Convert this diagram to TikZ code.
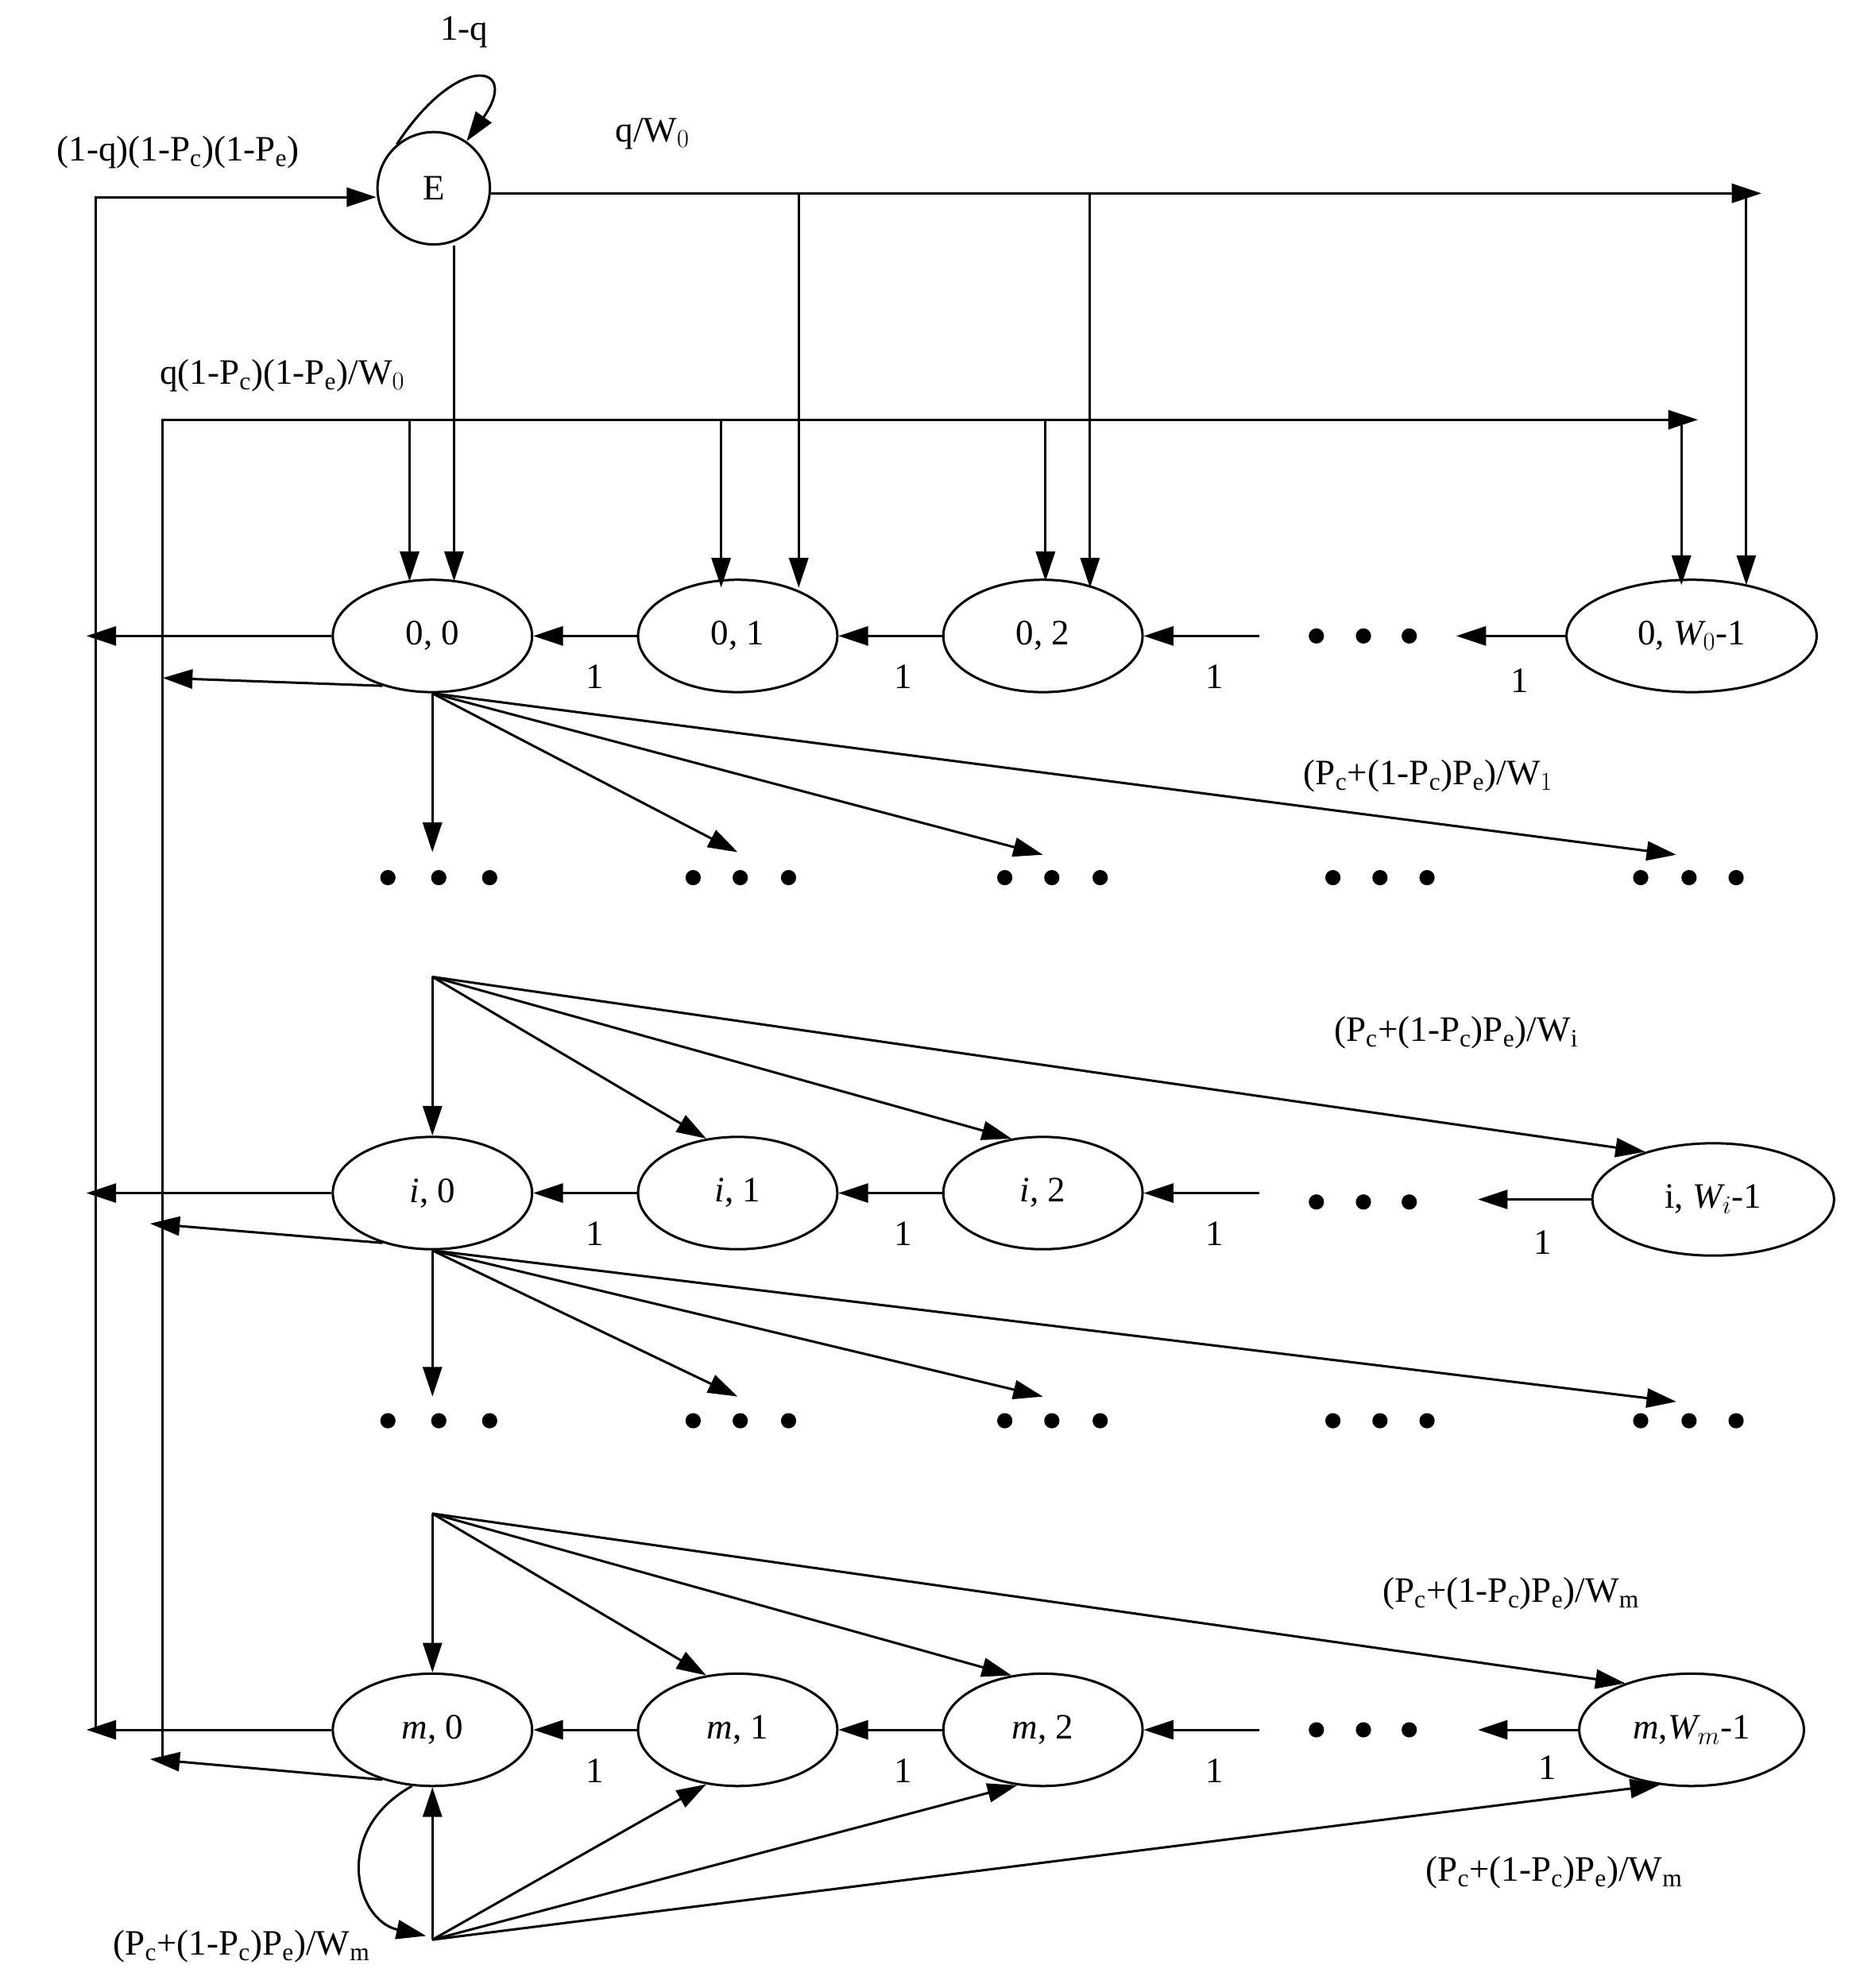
\documentclass[tikz,border=0pt]{standalone}
\usepackage{fontspec}
\setmainfont{Liberation Serif}
\usetikzlibrary{arrows.meta,shapes.geometric}
\begin{document}
\begin{tikzpicture}[x=0.03cm,y=-0.03cm,line width=1.6pt,
  every node/.style={font=\fontsize{24}{28}\selectfont},
  arr/.style={-{Triangle[length=0.7cm,width=0.45cm]}},
  st/.style={draw,ellipse,minimum width=4.7cm,minimum height=2.65cm,inner sep=0pt},
  dot/.style={fill,circle,inner sep=0pt,minimum size=0.36cm},
  lab/.style={inner sep=1pt}]
\useasboundingbox (0,0) rectangle (1462,1563);
% nodes
\node[draw,circle,minimum size=2.65cm,inner sep=0pt] (E) at (341,148) {E};
\foreach \r/\y/\a in {0/500/0, i/938/\textit{i}, m/1360/\textit{m}}{
  \node[st] (\r0) at (340,\y) {\a, 0};
  \node[st] (\r1) at (580,\y) {\a, 1};
  \node[st] (\r2) at (820,\y) {\a, 2};
}
\node[st,minimum width=5.9cm] (0W) at (1330,500) {0, \textit{W$_0$}-1};
\node[st,minimum width=5.7cm] (iW) at (1347,943) {i, \textit{W$_i$}-1};
\node[st,minimum width=5.3cm] (mW) at (1330,1360) {\textit{m},\textit{W$_m$}-1};
% dots in rows
\foreach \y/\xs in {500/{1035,1072,1108},945/{1035,1072,1108},1360/{1035,1072,1108}}{
  \foreach \x in \xs {\node[dot] at (\x,\y) {};}}
\foreach \y in {690,1117}{
  \foreach \x in {305,345,385,545,582,620,790,827,865,1048,1085,1122,1290,1328,1365}{\node[dot] at (\x,\y) {};}}
\coordinate (d0) at (990,500);
\coordinate (di) at (990,938);
\coordinate (dm) at (990,1360);
\coordinate (d0b) at (1145,500);
\coordinate (dib) at (1162,943);
\coordinate (dmb) at (1162,1360);
% horizontal chains
\foreach \r in {0,i,m}{
  \draw[arr] (\r1) -- (\r0); \draw[arr] (\r2) -- (\r1); \draw[arr] (d\r) -- (\r2);
}
\draw[arr] (0W) -- (d0b); \draw[arr] (iW) -- (dib); \draw[arr] (mW) -- (dmb);
\foreach \y in {532,970,1392}{
  \node[lab] at (468,\y) {1}; \node[lab] at (710,\y) {1}; \node[lab] at (955,\y) {1};}
\node[lab] at (1195,535) {1};\node[lab] at (1213,977) {1};\node[lab] at (1217,1390) {1};
% E
\draw[arr] (E.130) .. controls (360,40) and (410,50) .. (E.55);
\node[lab] at (365,25) {1-q};
\coordinate (L1) at (75,155);
\draw[arr] (75,1360) -- (L1) -- (E.west |- L1) ;
\node[lab] at (140,120) {(1-q)(1-P$_\mathrm{c}$)(1-P$_\mathrm{e}$)};
\draw[arr] (E.east |- 0,152) -- (1385,152);
\node[lab] at (513,105) {q/W$_0$};
\draw[arr] (628,152) -- (628,462);
\draw[arr] (857,152) -- (857,462);
\draw[arr] (1373,152) -- (1373,460);
\draw[arr] (E.south -| 357,0) -- (357,457);
% second feedback
\draw[arr] (128,1383) -- (128,330) -- (1335,330);
\node[lab] at (222,295) {q(1-P$_\mathrm{c}$)(1-P$_\mathrm{e}$)/W$_0$};
\draw[arr] (322,330) -- (322,457);
\draw[arr] (567,330) -- (567,462);
\draw[arr] (822,330) -- (822,457);
\draw[arr] (1322,330) -- (1322,460);
% outgoing left
\draw[arr] (00.west) -- (68,500);
\draw[arr] (00.225) ++(0,0) -- (128,533);
\draw[arr] (i0.west) -- (68,938);
\draw[arr] (i0.225) -- (118,962);
\draw[arr] (m0.west) -- (68,1360);
\draw[arr] (m0.225) -- (118,1383);
% fan from 0,0
\draw[arr] (00.south) -- (340,670);
\draw[arr] (00.south) -- (580,670);
\draw[arr] (00.south) -- (820,672);
\draw[arr] (00.south) -- (1318,672);
\node[lab] at (1123,610) {(P$_\mathrm{c}$+(1-P$_\mathrm{c}$)P$_\mathrm{e}$)/W$_1$};
% fan into i row
\coordinate (si) at (340,768);
\draw[arr] (si) -- (i0); \draw[arr] (si) -- (i1.120); \draw[arr] (si) -- (i2.120); \draw[arr] (si) -- (iW.145);
\node[lab] at (1145,812) {(P$_\mathrm{c}$+(1-P$_\mathrm{c}$)P$_\mathrm{e}$)/W$_\mathrm{i}$};
% fan from i,0
\draw[arr] (i0.south) -- (340,1098);
\draw[arr] (i0.south) -- (580,1098);
\draw[arr] (i0.south) -- (820,1098);
\draw[arr] (i0.south) -- (1318,1102);
% fan into m row
\coordinate (sm) at (340,1190);
\draw[arr] (sm) -- (m0); \draw[arr] (sm) -- (m1.120); \draw[arr] (sm) -- (m2.120); \draw[arr] (sm) -- (mW.145);
\node[lab] at (1188,1253) {(P$_\mathrm{c}$+(1-P$_\mathrm{c}$)P$_\mathrm{e}$)/W$_\mathrm{m}$};
% bottom
\coordinate (sb) at (340,1525);
\draw[arr] (sb) -- (m0.south);
\draw[arr] (m0.250) .. controls (260,1440) and (280,1510) .. (335,1522);
\draw[arr] (sb) -- (m1.240);
\draw[arr] (sb) -- (m2.245);
\draw[arr] (sb) -- (mW.240);
\node[lab] at (1222,1472) {(P$_\mathrm{c}$+(1-P$_\mathrm{c}$)P$_\mathrm{e}$)/W$_\mathrm{m}$};
\node[lab] at (190,1530) {(P$_\mathrm{c}$+(1-P$_\mathrm{c}$)P$_\mathrm{e}$)/W$_\mathrm{m}$};
\end{tikzpicture}
\end{document}
